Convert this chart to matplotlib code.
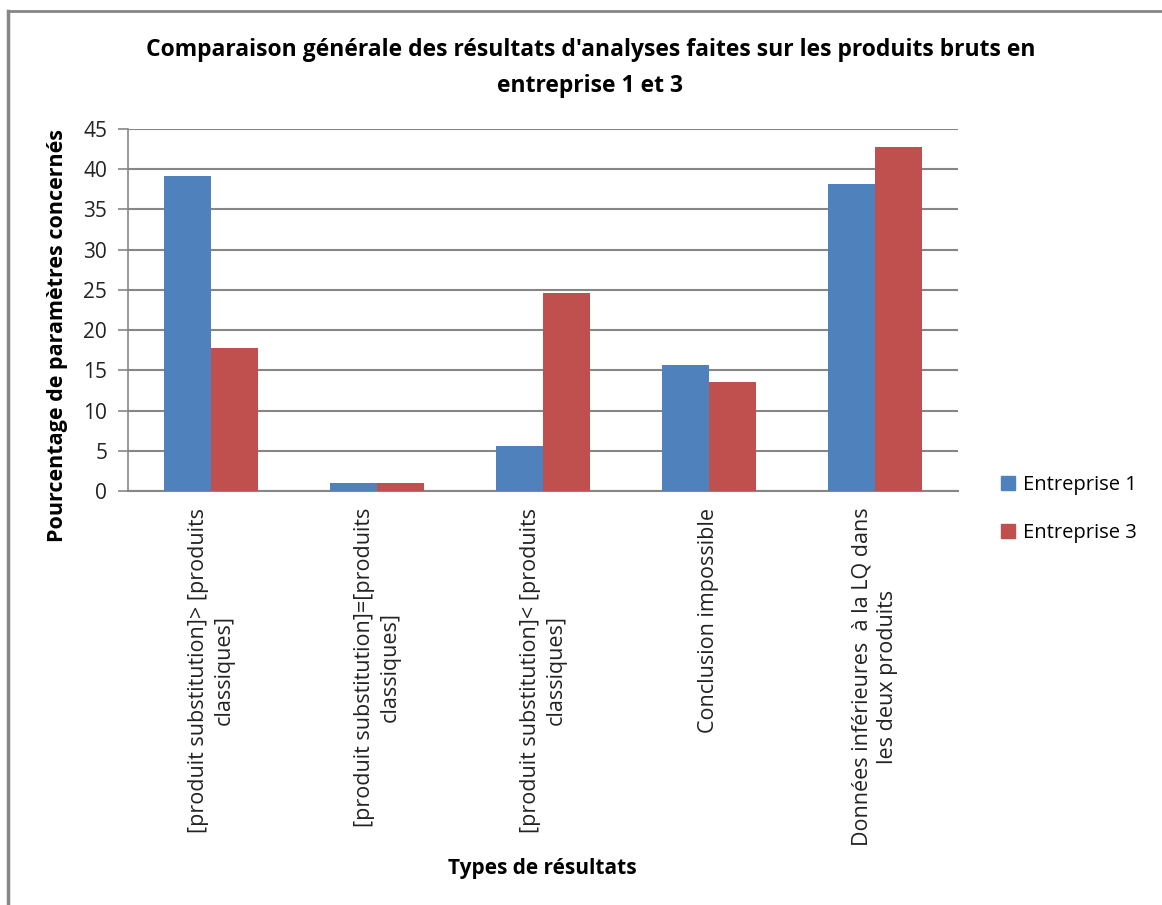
import matplotlib.pyplot as plt
import numpy as np
from matplotlib.lines import Line2D
from matplotlib.patches import Patch

categories = [
    "[produit substitution]> [produits\nclassiques]",
    "[produit substitution]=[produits\nclassiques]",
    "[produit substitution]< [produits\nclassiques]",
    "Conclusion impossible",
    "Données inférieures  à la LQ dans\nles deux produits",
]
entreprise_1 = [39.2, 1.0, 5.6, 15.6, 38.2]
entreprise_3 = [17.8, 1.0, 24.6, 13.6, 42.7]
series_names = ["Entreprise 1", "Entreprise 3"]
yticks = [0, 5, 10, 15, 20, 25, 30, 35, 40, 45]

blue = "#4F81BD"
red = "#C0504D"
grid_grey = "#868686"

plt.rcParams['font.family'] = ['Open Sans', 'DejaVu Sans']

fig = plt.figure(figsize=(11.62, 9.05), dpi=100)
ax = fig.add_axes([0.1102, 0.4575, 0.7142, 0.400])

x = np.arange(len(categories))
w = 1 / 3.5
ax.bar(x - w / 2, entreprise_1, width=w, color=blue, label=series_names[0], zorder=3)
ax.bar(x + w / 2, entreprise_3, width=w, color=red, label=series_names[1], zorder=3)

ax.set_xlim(-0.5, len(categories) - 0.5)
ax.set_ylim(0, 45)
ax.set_yticks(yticks)
ax.set_yticklabels([str(t) for t in yticks], fontsize=15, color="#222222")
ax.yaxis.grid(True, color=grid_grey, linewidth=1.5, zorder=0)
ax.tick_params(axis='y', length=7, width=1.2, color=grid_grey, pad=8)
ax.tick_params(axis='x', length=0, pad=12)

for side in ("top", "right"):
    ax.spines[side].set_visible(False)
ax.spines["left"].set_color(grid_grey)
ax.spines["bottom"].set_color(grid_grey)
ax.spines["left"].set_linewidth(1.2)
ax.spines["bottom"].set_linewidth(1.5)

ax.set_xticks(x)
ax.set_xticklabels(categories, rotation=90, fontsize=15.5, ha="center",
                   va="top", multialignment="center", color="#222222",
                   linespacing=1.3)

ax.set_ylabel("Pourcentage de paramètres concernés", fontsize=15.5,
              fontweight="bold")
ax.yaxis.set_label_coords(-0.072, 0.43)
fig.text(0.467, 0.040, "Types de résultats", fontsize=15, fontweight="bold",
         ha="center", va="center")

fig.text(0.508, 0.945, "Comparaison générale des résultats d'analyses faites sur les produits bruts en",
         fontsize=16.5, fontweight="bold", ha="center", va="center")
fig.text(0.508, 0.905, "entreprise 1 et 3", fontsize=16.5, fontweight="bold",
         ha="center", va="center")

handles = [Patch(color=blue), Patch(color=red)]
fig.legend(handles, series_names, loc="center left",
           bbox_to_anchor=(0.846, 0.4375), frameon=False, fontsize=14.5,
           handlelength=0.7, handleheight=0.7, handletextpad=0.4,
           labelspacing=1.35)

# chart frame: top and left edges only
fig.add_artist(Line2D([0.0065, 1.0], [0.988, 0.988], color=grid_grey, linewidth=2))
fig.add_artist(Line2D([0.0065, 0.0065], [0.0, 0.988], color=grid_grey, linewidth=2.5))

fig.savefig("out.png", dpi=100)
